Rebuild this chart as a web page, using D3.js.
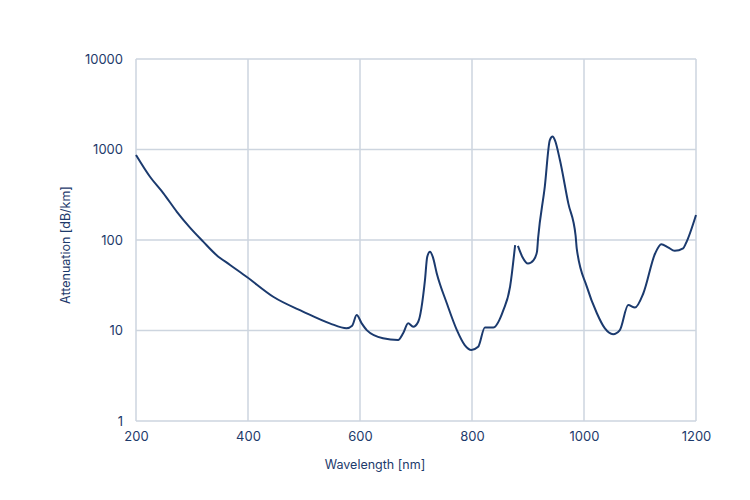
<!DOCTYPE html>
<html>
<head>
<meta charset="utf-8">
<script src="https://cdn.jsdelivr.net/npm/d3@7"></script>
<style>
    body { margin: 0; background: #fff; }
    text { font-family: Inter, "Noto Sans", sans-serif; fill: #1d3a6b; }
</style>
</head>
<body>
<svg id="chart"></svg>
<script>
// data, two stitched segments
const wavelengthA = [200, 225, 249, 273, 296, 320, 344, 368, 398, 445, 499, 546, 576, 586, 594, 603, 612, 641, 668, 677, 686, 695, 704, 716, 720, 725, 730, 737, 755, 773, 787, 799, 811, 823, 838, 856, 868, 877];
const attenuationA = [870, 500, 328, 205, 138, 96, 68, 53, 39, 23.6, 16.1, 12, 10.6, 11.3, 14.8, 12, 10.1, 8.2, 7.85, 9.3, 12, 11, 12.5, 36, 65, 74, 65, 43, 20, 10.1, 6.9, 6.1, 6.6, 10.8, 10.8, 16.8, 30.5, 88];
const wavelengthB = [882, 890, 900, 910, 916, 918, 930, 939, 944, 948, 957, 972, 985, 987, 1005, 1023, 1037, 1052, 1064, 1079, 1091, 1106, 1127, 1138, 1150, 1162, 1177, 1182, 1200];
const attenuationB = [86, 65, 55, 60, 74, 104, 389, 1270, 1390, 1270, 765, 254, 112, 81, 30.5, 15.5, 10.6, 9.1, 10.1, 19.1, 17.9, 25.8, 71, 90, 83, 76, 81, 92, 189];
const xTicks = [200, 400, 600, 800, 1000, 1200];
const yTicks = [1, 10, 100, 1000, 10000];

const width = 750, height = 500;
const margin = { top: 59, right: 54, bottom: 79, left: 136 };

let svg = d3.select("#chart")
    .attr("width", width)
    .attr("height", height);

let x = d3.scaleLinear()
    .domain([200, 1200])
    .range([margin.left, width - margin.right]);

let y = d3.scaleLog()
    .domain([1, 10000])
    .range([height - margin.bottom, margin.top]);

// grid
svg.append("g")
    .selectAll("line")
    .data(xTicks)
    .join("line")
    .attr("x1", d => x(d)).attr("x2", d => x(d))
    .attr("y1", y(1)).attr("y2", y(10000))
    .attr("stroke", "#cdd5df")
    .attr("stroke-width", 1.5);

svg.append("g")
    .selectAll("line")
    .data(yTicks)
    .join("line")
    .attr("x1", x(200)).attr("x2", x(1200))
    .attr("y1", d => y(d)).attr("y2", d => y(d))
    .attr("stroke", "#cdd5df")
    .attr("stroke-width", 1.5);

// axes (labels only)
let xAxis = svg.append("g")
    .attr("transform", `translate(0, ${y(1)})`)
    .call(d3.axisBottom(x).tickValues(xTicks).tickFormat(d3.format("d")).tickSize(0).tickPadding(11));
xAxis.select(".domain").remove();
xAxis.selectAll("text").style("font-size", "13px");

let yAxis = svg.append("g")
    .attr("transform", `translate(${x(200)}, 0)`)
    .call(d3.axisLeft(y).tickValues(yTicks).tickFormat(d3.format("d")).tickSize(0).tickPadding(13));
yAxis.select(".domain").remove();
yAxis.selectAll("text").style("font-size", "13px");

svg.append("text")
    .attr("x", 375)
    .attr("y", 469)
    .attr("text-anchor", "middle")
    .style("font-size", "12.5px")
    .text("Wavelength [nm]");

svg.append("text")
    .attr("transform", `translate(70, 245) rotate(-90)`)
    .attr("text-anchor", "middle")
    .style("font-size", "12.5px")
    .text("Attenuation [dB/km]");

// curve
let line = d3.line()
    .x(d => x(d[0]))
    .y(d => y(d[1]))
    .curve(d3.curveMonotoneX);

[[wavelengthA, attenuationA], [wavelengthB, attenuationB]].forEach(([wl, att]) => {
    svg.append("path")
        .datum(wl.map((w, i) => [w, att[i]]))
        .attr("d", line)
        .attr("fill", "none")
        .attr("stroke", "#1b3a6e")
        .attr("stroke-width", 2)
        .attr("stroke-linejoin", "round");
});
</script>
</body>
</html>
